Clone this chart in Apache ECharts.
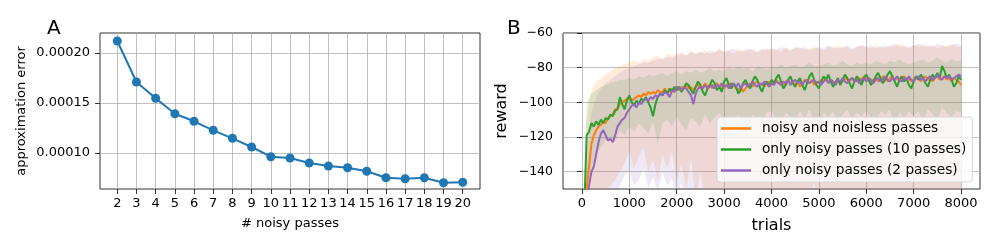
<!DOCTYPE html>
<html>
<head>
<meta charset="utf-8">
<script src="https://cdn.jsdelivr.net/npm/echarts@6/dist/echarts.min.js"></script>
<style>
html,body{margin:0;padding:0;background:#fff;}
#chart{width:996px;height:249px;}
</style>
</head>
<body>
<div id="chart"></div>
<script>
// ---------- Panel A data ----------
const passes = [2,3,4,5,6,7,8,9,10,11,12,13,14,15,16,17,18,19,20];
const approxError = [0.000212,0.000171,0.0001547,0.0001393,0.0001317,0.0001227,0.0001147,0.000106,0.0000963,0.000095,0.00009,0.000087,0.0000853,0.0000817,0.0000753,0.0000743,0.0000753,0.0000703,0.0000707];
const errTicks = [0.0001,0.00015,0.0002];

// ---------- Panel B data ----------
const trials = [
  0,50,100,150,200,250,300,350,400,450,500,550,600,650,700,750,800,850,900,950,
  1000,1050,1100,1150,1200,1250,1300,1350,1400,1450,1500,1550,1600,1650,1700,1750,1800,1850,1900,1950,
  2000,2050,2100,2150,2200,2250,2300,2350,2400,2450,2500,2550,2600,2650,2700,2750,2800,2850,2900,2950,
  3000,3050,3100,3150,3200,3250,3300,3350,3400,3450,3500,3550,3600,3650,3700,3750,3800,3850,3900,3950,
  4000,4050,4100,4150,4200,4250,4300,4350,4400,4450,4500,4550,4600,4650,4700,4750,4800,4850,4900,4950,
  5000,5050,5100,5150,5200,5250,5300,5350,5400,5450,5500,5550,5600,5650,5700,5750,5800,5850,5900,5950,
  6000,6050,6100,6150,6200,6250,6300,6350,6400,6450,6500,6550,6600,6650,6700,6750,6800,6850,6900,6950,
  7000,7050,7100,7150,7200,7250,7300,7350,7400,7450,7500,7550,7600,7650,7700,7750,7800,7850,7900,7950,
  8000];
const rewardMixed = [
  -230,-190,-150,-137,-124,-119,-116,-114,-113,-111,-112,-109,-108,-107,-104,-104,-101,-100,-99,-98,
  -97,-99,-98,-97,-96,-97,-95,-96,-94,-95,-94,-95,-93,-94,-94,-92,-95,-93,-92,-94,
  -92,-93,-91,-92,-90,-92,-91,-93,-91,-90,-92,-91,-89,-91,-90,-92,-90,-89,-91,-90,
  -92,-90,-89,-91,-90,-92,-93,-91,-94,-92,-90,-89,-91,-89,-88,-90,-89,-91,-89,-88,
  -90,-89,-87,-89,-88,-90,-88,-87,-89,-88,-90,-88,-91,-89,-87,-88,-89,-87,-90,-88,
  -89,-87,-88,-86,-88,-87,-89,-88,-87,-89,-88,-86,-87,-88,-86,-87,-88,-86,-87,-85,
  -87,-86,-88,-87,-86,-88,-87,-85,-86,-88,-86,-85,-87,-86,-88,-86,-85,-87,-86,-88,
  -87,-85,-86,-88,-86,-85,-87,-86,-88,-86,-85,-87,-86,-85,-87,-86,-88,-86,-87,-88,
  -90];
const rewardNoisy10 = [
  -220,-160,-119,-117,-112,-114,-111,-113,-110,-112,-109,-110,-107,-108,-105,-104,-97,-101,-104,-99,
  -96,-100,-102,-99,-101,-98,-99,-97,-100,-103,-108,-101,-97,-95,-96,-93,-95,-92,-94,-91,
  -93,-91,-94,-92,-89,-90,-93,-95,-91,-88,-90,-94,-96,-92,-90,-87,-89,-93,-91,-94,
  -88,-86,-90,-92,-89,-91,-95,-93,-89,-87,-90,-92,-88,-85,-87,-91,-94,-90,-88,-91,
  -87,-89,-86,-84,-88,-92,-90,-87,-85,-89,-91,-88,-86,-90,-93,-89,-85,-83,-87,-90,
  -92,-88,-85,-87,-84,-88,-91,-89,-86,-90,-87,-84,-86,-89,-92,-88,-85,-87,-90,-86,
  -84,-87,-90,-88,-85,-83,-86,-89,-87,-84,-82,-85,-88,-91,-87,-85,-88,-86,-90,-92,
  -88,-85,-87,-84,-86,-89,-91,-87,-84,-86,-83,-86,-79,-82,-86,-84,-87,-91,-89,-85,
  -87];
const rewardNoisy2 = [
  -240,-200,-165,-148,-140,-137,-130,-123,-118,-116,-119,-122,-121,-123,-119,-114,-112,-110,-109,-106,
  -104,-102,-101,-103,-100,-101,-99,-98,-99,-97,-98,-96,-97,-95,-96,-94,-95,-97,-93,-94,
  -91,-92,-93,-91,-92,-94,-96,-101,-95,-92,-91,-92,-90,-92,-91,-90,-92,-90,-91,-89,
  -91,-90,-92,-89,-90,-91,-89,-92,-90,-89,-91,-90,-88,-90,-91,-89,-90,-88,-89,-91,
  -89,-90,-88,-89,-90,-88,-89,-87,-90,-88,-87,-89,-88,-90,-88,-87,-89,-88,-87,-89,
  -88,-90,-88,-87,-89,-87,-88,-90,-87,-88,-86,-88,-89,-87,-86,-88,-87,-89,-87,-86,
  -88,-86,-87,-89,-87,-86,-88,-87,-85,-87,-88,-86,-87,-85,-87,-88,-86,-87,-85,-87,
  -88,-86,-85,-87,-86,-88,-86,-85,-87,-86,-84,-86,-87,-85,-86,-85,-87,-86,-85,-84,
  -85];

// shaded spread bands (every 100 trials)
const bandTrials = [0,100,200,300,400,500,600,700,800,900,1000,1100,1200,1300,1400,1500,1600,1700,1800,1900,2000,2100,2200,2300,2400,2500,2600,2700,2800,2900,3000,3100,3200,3300,3400,3500,3600,3700,3800,3900,4000,4100,4200,4300,4400,4500,4600,4700,4800,4900,5000,5100,5200,5300,5400,5500,5600,5700,5800,5900,6000,6100,6200,6300,6400,6500,6600,6700,6800,6900,7000,7100,7200,7300,7400,7500,7600,7700,7800,7900,8000];
const mixedUpper = [-190,-110,-93,-88,-86,-84,-82,-80,-79,-78, -77,-76,-77,-75,-76,-74,-73,-75,-72,-73, -72,-71,-73,-70,-72,-71,-70,-72,-71,-69, -71,-70,-72,-69,-71,-70,-69,-71,-70,-69, -70,-69,-71,-68,-70,-69,-68,-70,-69,-68, -69,-70,-68,-69,-67,-69,-68,-70,-68,-67, -68,-69,-67,-68,-69,-67,-68,-66,-68,-69, -67,-68,-66,-68,-67,-69,-67,-68,-66,-68,-68];
const mixedLower = [-270,-200,-170,-160,-155,-150,-148,-145,-140,-135, -128,-138,-131,-126,-140,-133,-145,-130,-138,-128, -146,-135,-150,-132,-156,-140,-158,-148,-162,-152, -160,-165,-155,-168,-160,-150,-165,-158,-170,-162, -163,-158,-168,-160,-165,-172,-160,-166,-170,-145, -162,-165,-160,-168,-158,-165,-162,-170,-160,-165, -160,-168,-162,-158,-165,-170,-160,-164,-168,-160, -162,-166,-160,-170,-163,-158,-165,-162,-168,-160,-160];
const noisy10Upper = [-190,-100,-95,-93,-91,-90,-89,-88,-87,-87, -86,-87,-85,-86,-84,-85,-84,-83,-85,-83, -82,-84,-82,-83,-81,-83,-82,-80,-82,-81, -82,-80,-81,-79,-81,-80,-82,-79,-80,-81, -79,-80,-78,-80,-79,-78,-80,-79,-77,-79, -79,-78,-77,-79,-78,-76,-78,-79,-77,-78, -77,-78,-76,-77,-78,-76,-77,-75,-77,-78, -77,-76,-75,-77,-76,-74,-76,-77,-75,-76,-76];
const noisy10Lower = [-260,-150,-138,-130,-126,-122,-120,-123,-116,-119, -114,-117,-112,-115,-118,-111,-124,-112,-110,-114, -108,-113,-116,-109,-111,-114,-107,-112,-109,-106, -112,-108,-110,-107,-113,-116,-107,-109,-112,-106, -105,-110,-113,-106,-108,-111,-105,-109,-104,-111, -117,-106,-109,-105,-112,-107,-104,-110,-106,-108, -105,-109,-112,-105,-107,-104,-114,-106,-109,-105, -108,-105,-111,-104,-107,-110,-103,-106,-109,-105,-106];
const noisy2Upper = [-210,-135,-106,-97,-92,-89,-87,-85,-83,-81, -80,-79,-78,-77,-77,-76,-75,-75,-74,-74, -73,-72,-73,-71,-72,-71,-72,-70,-71,-70, -71,-70,-69,-71,-70,-69,-70,-71,-69,-70, -69,-70,-68,-69,-70,-68,-69,-68,-70,-69, -68,-69,-67,-68,-69,-68,-67,-69,-68,-67, -68,-67,-69,-68,-67,-68,-66,-68,-67,-68, -67,-66,-68,-67,-68,-66,-67,-68,-67,-66,-67];
const noisy2Lower = [-290,-230,-200,-185,-175,-165,-158,-152,-148,-142, -140,-148,-145,-138,-150,-143,-152,-140,-148,-144, -155,-146,-160,-150,-165,-158,-170,-162,-175,-168, -176,-180,-172,-178,-175,-182,-176,-179,-174,-180, -177,-181,-175,-179,-176,-180,-174,-178,-181,-175, -178,-176,-180,-175,-179,-177,-181,-176,-178,-175, -179,-176,-180,-177,-175,-179,-176,-178,-181,-176, -178,-175,-179,-177,-180,-176,-178,-175,-179,-177,-176];
const trialTicks = [0,1000,2000,3000,4000,5000,6000,7000,8000];
const rewardTicks = [-140,-120,-100,-80,-60];

const seriesNames = ['noisy and noisless passes','only noisy passes (10 passes)','only noisy passes (2 passes)'];
const C = {blue:'#1f77b4', orange:'#ff7f0e', green:'#2ca02c', purple:'#9467bd'};

const FONT = 'DejaVu Sans';
const minus = v => String(v).replace('-', '\u2212');

function bandSeries(upper, lower, fill, name) {
  return {
    type: 'custom', name: name, xAxisIndex: 1, yAxisIndex: 1, clip: true, silent: true, z: 1,
    data: bandTrials.map((t, i) => [t, lower[i], upper[i]]),
    encode: {x: 0, y: [1, 2]},
    renderItem: function (params, api) {
      if (params.dataIndex !== 0) return;
      const pts = [];
      for (let i = 0; i < bandTrials.length; i++) pts.push(api.coord([bandTrials[i], upper[i]]));
      for (let i = bandTrials.length - 1; i >= 0; i--) pts.push(api.coord([bandTrials[i], lower[i]]));
      return {type: 'polygon', shape: {points: pts}, style: {fill: fill}};
    }
  };
}
function lineSeries(name, vals, color) {
  return {
    type: 'line', name: name, xAxisIndex: 1, yAxisIndex: 1, showSymbol: false, clip: true, z: 3,
    data: trials.map((t, i) => [t, vals[i]]),
    lineStyle: {color: color, width: 2}, itemStyle: {color: color}
  };
}

const gridLine = {show: true, lineStyle: {color: '#b0b0b0', width: 0.8}};
const tick = vals => ({show: true, inside: false, length: 5, lineStyle: {color: '#000', width: 0.8}, customValues: vals});

const option = {
  animation: false,
  backgroundColor: '#fff',
  title: [
    {text: 'A', left: 47, top: 19, padding: 0, textStyle: {fontFamily: FONT, fontSize: 20, fontWeight: 'normal', color: '#000'}},
    {text: 'B', left: 507, top: 19, padding: 0, textStyle: {fontFamily: FONT, fontSize: 20, fontWeight: 'normal', color: '#000'}}
  ],
  grid: [
    {left: 100, right: 516, top: 33, bottom: 60, show: true, borderColor: '#000', borderWidth: 0.8, backgroundColor: 'transparent'},
    {left: 563, right: 16, top: 33, bottom: 60, show: true, borderColor: '#000', borderWidth: 0.8, backgroundColor: 'transparent'}
  ],
  xAxis: [
    {type: 'value', gridIndex: 0, min: 1.1, max: 20.9,
     name: '# noisy passes', nameLocation: 'middle', nameGap: 28,
     nameTextStyle: {fontFamily: FONT, fontSize: 13, color: '#000'},
     axisLine: {show: false}, axisTick: tick(passes), splitLine: gridLine,
     axisLabel: {customValues: passes, interval: 0, margin: 8, fontFamily: FONT, fontSize: 13, color: '#000'}},
    {type: 'value', gridIndex: 1, min: -400, max: 8400,
     name: 'trials', nameLocation: 'middle', nameGap: 29,
     nameTextStyle: {fontFamily: FONT, fontSize: 16, color: '#000'},
     axisLine: {show: false}, axisTick: tick(trialTicks), splitLine: gridLine,
     axisLabel: {customValues: trialTicks, interval: 0, margin: 8, fontFamily: FONT, fontSize: 13, color: '#000', formatter: v => String(v)}}
  ],
  yAxis: [
    {type: 'value', gridIndex: 0, min: 0.000064, max: 0.00022,
     name: 'approximation error', nameLocation: 'middle', nameGap: 72, nameRotate: 90,
     nameTextStyle: {fontFamily: FONT, fontSize: 13, color: '#000'},
     axisLine: {show: false}, axisTick: tick(errTicks), splitLine: gridLine,
     axisLabel: {customValues: errTicks, margin: 10, fontFamily: FONT, fontSize: 13, color: '#000', formatter: v => v.toFixed(5)}},
    {type: 'value', gridIndex: 1, min: -150, max: -60,
     name: 'reward', nameLocation: 'middle', nameGap: 53, nameRotate: 90,
     nameTextStyle: {fontFamily: FONT, fontSize: 16, color: '#000'},
     axisLine: {show: false}, axisTick: tick(rewardTicks), splitLine: gridLine,
     axisLabel: {customValues: rewardTicks, margin: 10, fontFamily: FONT, fontSize: 12.5, color: '#000', formatter: v => minus(v)}}
  ],
  legend: {
    data: seriesNames, orient: 'vertical', left: 717, top: 117,
    icon: 'rect', itemWidth: 30, itemHeight: 2.5, itemGap: 6,
    padding: [4, 6, 4, 4],
    backgroundColor: 'rgba(255,255,255,0.8)', borderColor: '#d5d5d5', borderWidth: 1, borderRadius: 3,
    textStyle: {fontFamily: FONT, fontSize: 13.7, color: '#000', lineHeight: 15, padding: [0, 0, 0, 6]},
    selectedMode: false
  },
  series: [
    {type: 'line', xAxisIndex: 0, yAxisIndex: 0, data: passes.map((p, i) => [p, approxError[i]]),
     symbol: 'circle', symbolSize: 9, showSymbol: true,
     lineStyle: {color: C.blue, width: 2}, itemStyle: {color: C.blue}, z: 3},
    bandSeries(mixedUpper, mixedLower, 'rgba(255,127,14,0.15)', 'band0'),
    bandSeries(noisy10Upper, noisy10Lower, 'rgba(44,160,44,0.15)', 'band1'),
    bandSeries(noisy2Upper, noisy2Lower, 'rgba(148,103,189,0.15)', 'band2'),
    lineSeries(seriesNames[0], rewardMixed, C.orange),
    lineSeries(seriesNames[1], rewardNoisy10, C.green),
    lineSeries(seriesNames[2], rewardNoisy2, C.purple)
  ]
};
const chart = echarts.init(document.getElementById('chart'), null, {renderer: 'canvas'});
chart.setOption(option);
</script>
</body>
</html>
